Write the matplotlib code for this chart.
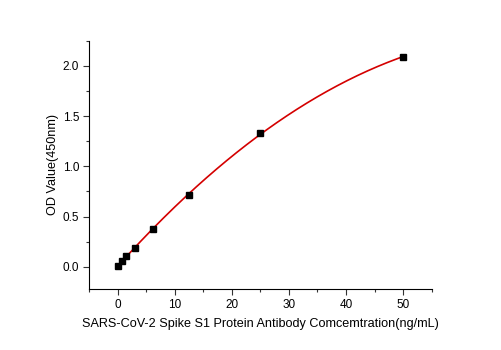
import numpy as np
import matplotlib
matplotlib.use("Agg")
import matplotlib.pyplot as plt
from matplotlib.ticker import MultipleLocator

plt.rcParams['font.family'] = ['Liberation Sans', 'DejaVu Sans']

conc = [0, 0.78, 1.56, 3.125, 6.25, 12.5, 25, 50]
od = [0.01, 0.06, 0.11, 0.19, 0.375, 0.72, 1.33, 2.09]

fig = plt.figure(figsize=(5.01, 3.5), dpi=100)
ax = fig.add_axes([0.1776, 0.1743, 0.6841, 0.7094])

coef = np.polyfit(conc, od, 2)
xs = np.linspace(0, 50, 200)
ax.plot(xs, np.polyval(coef, xs), color='#d40000', lw=1.2, zorder=2)
ax.plot(conc, od, 's', color='black', markersize=4.0, zorder=3)

ax.set_xlim(-5, 55)
ax.set_ylim(-0.22, 2.25)
ax.xaxis.set_major_locator(MultipleLocator(10))
ax.xaxis.set_minor_locator(MultipleLocator(5))
ax.yaxis.set_major_locator(MultipleLocator(0.5))
ax.yaxis.set_minor_locator(MultipleLocator(0.25))
ax.yaxis.set_major_formatter(matplotlib.ticker.FormatStrFormatter('%.1f'))
for s in ['top', 'right']:
    ax.spines[s].set_visible(False)
ax.tick_params(which='both', direction='out', labelsize=8.5, width=0.8, color='#333333', pad=3)
ax.tick_params(which='major', length=4)
ax.tick_params(which='minor', length=2.5)
ax.set_xlabel('SARS-CoV-2 Spike S1 Protein Antibody Comcemtration(ng/mL)', fontsize=9.1, labelpad=5)
ax.set_ylabel('OD Value(450nm)', fontsize=9.1, labelpad=3)

fig.savefig('out.png', dpi=100)
